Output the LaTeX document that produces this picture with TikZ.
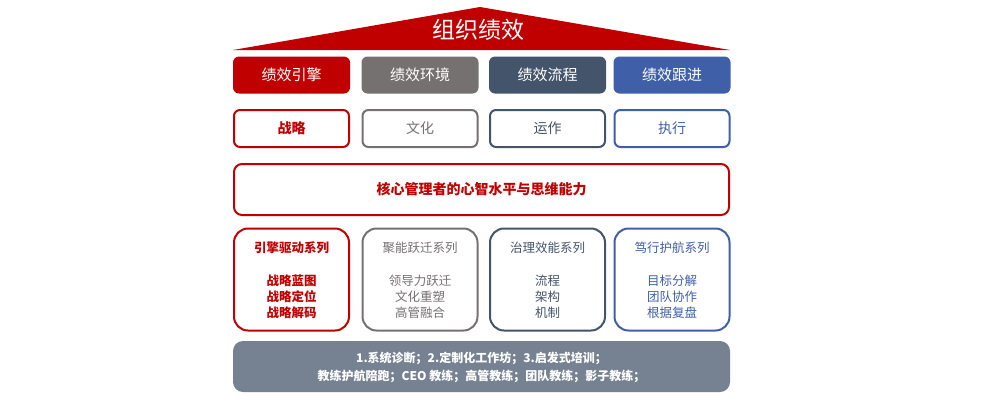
\documentclass[tikz,border=0pt]{standalone}
\usepackage{fontspec}
\setmainfont{Noto Sans CJK SC}
\definecolor{cRed}{HTML}{C00000}
\definecolor{cGray}{HTML}{767171}
\definecolor{cSlate}{HTML}{44546A}
\definecolor{cBlue}{HTML}{3F5FA9}
\definecolor{cBottom}{HTML}{768292}
\begin{document}
\begin{tikzpicture}[x=1pt,y=-1pt,
  headbox/.style={rounded corners=6pt, draw=none, text=white, font=\fontsize{15}{18}\selectfont, inner sep=0pt},
  subbox/.style={rounded corners=6pt, line width=2pt, fill=white, font=\fontsize{14}{17}\selectfont, inner sep=0pt},
  serbox/.style={rounded corners=14pt, line width=2pt, fill=white, inner sep=0pt},
]
\useasboundingbox (0,0) rectangle (1000,400);
% roof
\fill[cRed] (233,50) -- (480,7) -- (730,50) -- cycle;
\node[text=white, font=\fontsize{23}{26}\selectfont] (title) at (478,30) {组织绩效};
% row 1
\foreach \n/\x/\c/\t in {h1/291.5/cRed/绩效引擎, h2/420/cGray/绩效环境, h3/547.5/cSlate/绩效流程, h4/672/cBlue/绩效跟进}{
  \node[headbox, fill=\c, minimum width=117pt, minimum height=37pt] (\n) at (\x,75) {\t};
}
% row 2
\foreach \n/\x/\c/\t/\w in {s1/291.5/cRed/战略/\bfseries, s2/420/cGray/文化/, s3/547.5/cSlate/运作/, s4/672/cBlue/执行/}{
  \node[subbox, draw=\c, text=\c, minimum width=115pt, minimum height=37pt] (\n) at (\x,128.5) {\w\t};
}
\node[subbox, draw=cRed, text=cRed, minimum width=495pt, minimum height=51pt, rounded corners=8pt, font=\fontsize{14}{17}\selectfont\bfseries] (core) at (481.5,189.5) {核心管理者的心智水平与思维能力};
% row 4
\foreach \n/\x/\c/\h/\a/\b/\d/\w in {
  r1/291.5/cRed/引擎驱动系列/战略蓝图/战略定位/战略解码/\bfseries,
  r2/420/cGray/聚能跃迁系列/领导力跃迁/文化重塑/高管融合/,
  r3/547.5/cSlate/治理效能系列/流程/架构/机制/,
  r4/672/cBlue/笃行护航系列/目标分解/团队协作/根据复盘/}{
  \node[serbox, draw=\c, minimum width=115pt, minimum height=102pt] (\n) at (\x,279.5) {};
  \node[text=\c, font=\fontsize{12.5}{15}\selectfont, align=center] (\n h) at (\x,247.5) {\w\h};
  \node[text=\c, font=\fontsize{12.5}{16}\selectfont, align=center] (\n t) at (\x,297) {\w\a\\\w\b\\\w\d};
}
% bottom
\node[rounded corners=10pt, fill=cBottom, minimum width=497pt, minimum height=51pt, inner sep=0pt] (base) at (481.5,366.5) {};
\node[text=white, font=\fontsize{12}{18}\selectfont\bfseries, align=center] (baset) at (481.5,367) {1.系统诊断；2.定制化工作坊；3.启发式培训；\\教练护航陪跑；CEO 教练；高管教练；团队教练；影子教练；};
\end{tikzpicture}
\end{document}
